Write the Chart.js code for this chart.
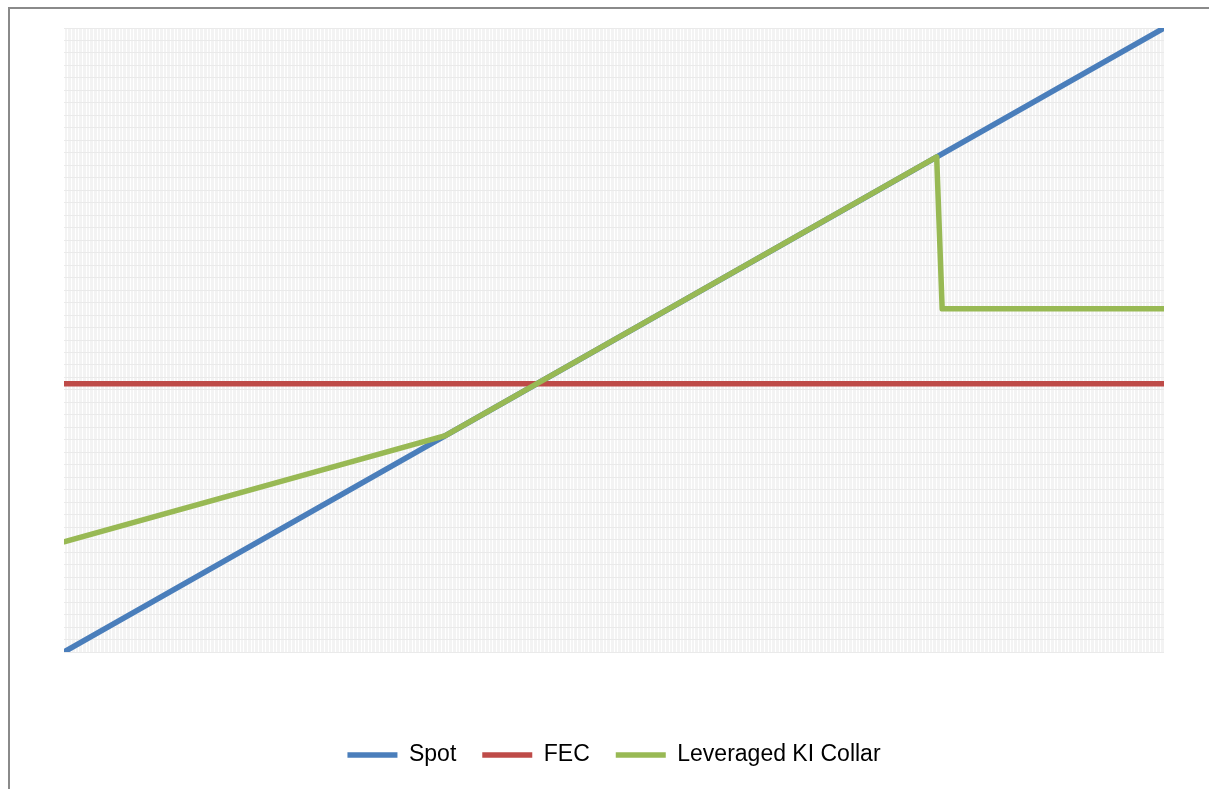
<!DOCTYPE html>
<html>
<head>
<meta charset="utf-8">
<title>Leveraged KI Collar</title>
<script src="https://cdn.jsdelivr.net/npm/chart.js@4.4.1/dist/chart.umd.min.js"></script>
<style>
  html, body { margin: 0; padding: 0; background: #fff; overflow: hidden; }
  #wrap { position: absolute; left: 0; top: 0; width: 1209px; height: 789px; }
  #frame {
    position: absolute; left: 8px; top: 7px; width: 1400px; height: 1000px;
    border: 2px solid #8a8a8a; box-sizing: border-box; pointer-events: none;
  }
</style>
</head>
<body>
<div id="frame"></div>
<div id="wrap"><canvas id="payoffChart"></canvas></div>
<script>
// Spot rate along the x axis, payoff on the y axis
const spotX = [0.600, 0.900];
const spotY = [0.600, 0.900];

const fecX = [0.600, 0.900];
const fecY = [0.729, 0.729];

const collarX = [0.600, 0.704, 0.838, 0.8395, 0.900];
const collarY = [0.653, 0.704, 0.838, 0.765, 0.765];

const seriesNames = ['Spot', 'FEC', 'Leveraged KI Collar'];
const seriesColors = ['#4a7ebb', '#be4b48', '#98b954'];

function toPoints(xs, ys) {
  return xs.map((x, i) => ({ x: x, y: ys[i] }));
}

// Light grey plot area behind the grid
const plotBackground = {
  id: 'plotBackground',
  beforeDraw(chart) {
    const { ctx, chartArea } = chart;
    ctx.save();
    ctx.fillStyle = '#f3f3f3';
    ctx.fillRect(chartArea.left, chartArea.top, chartArea.right - chartArea.left, chartArea.bottom - chartArea.top);
    ctx.restore();
  }
};

const lineStyle = {
  borderWidth: 5.5,
  pointRadius: 0,
  pointHoverRadius: 0,
  tension: 0,
  fill: false,
  borderCapStyle: 'round',
  borderJoinStyle: 'round'
};

new Chart(document.getElementById('payoffChart'), {
  type: 'line',
  data: {
    datasets: [
      Object.assign({ label: seriesNames[0], data: toPoints(spotX, spotY), borderColor: seriesColors[0], backgroundColor: seriesColors[0], order: 3 }, lineStyle),
      Object.assign({ label: seriesNames[1], data: toPoints(fecX, fecY), borderColor: seriesColors[1], backgroundColor: seriesColors[1], order: 2 }, lineStyle),
      Object.assign({ label: seriesNames[2], data: toPoints(collarX, collarY), borderColor: seriesColors[2], backgroundColor: seriesColors[2], order: 1 }, lineStyle)
    ]
  },
  options: {
    responsive: true,
    maintainAspectRatio: false,
    animation: false,
    layout: { padding: { left: 64, right: 45, top: 28, bottom: 12.5 } },
    scales: {
      x: {
        type: 'linear',
        min: 0.6,
        max: 0.9,
        border: { display: false },
        grid: { color: '#ffffff', lineWidth: 1, drawTicks: false },
        ticks: { display: false, stepSize: 0.001, autoSkip: false },
        afterFit(scale) { scale.height = 65.5; }
      },
      y: {
        type: 'linear',
        min: 0.6,
        max: 0.9,
        border: { display: false },
        grid: { color: '#eaeaea', lineWidth: 1, drawTicks: false },
        ticks: { display: false, stepSize: 0.006, autoSkip: false },
        afterFit(scale) { scale.width = 0; }
      }
    },
    plugins: {
      legend: {
        position: 'bottom',
        labels: {
          usePointStyle: true,
          pointStyle: 'line',
          pointStyleWidth: 50,
          padding: 26,
          color: '#000000',
          font: { family: '"Liberation Sans", Arial, sans-serif', size: 23 },
          // keep the series order, not the drawing order
          sort: (a, b) => a.datasetIndex - b.datasetIndex
        }
      },
      tooltip: { enabled: false }
    }
  },
  plugins: [plotBackground]
});
</script>
</body>
</html>
